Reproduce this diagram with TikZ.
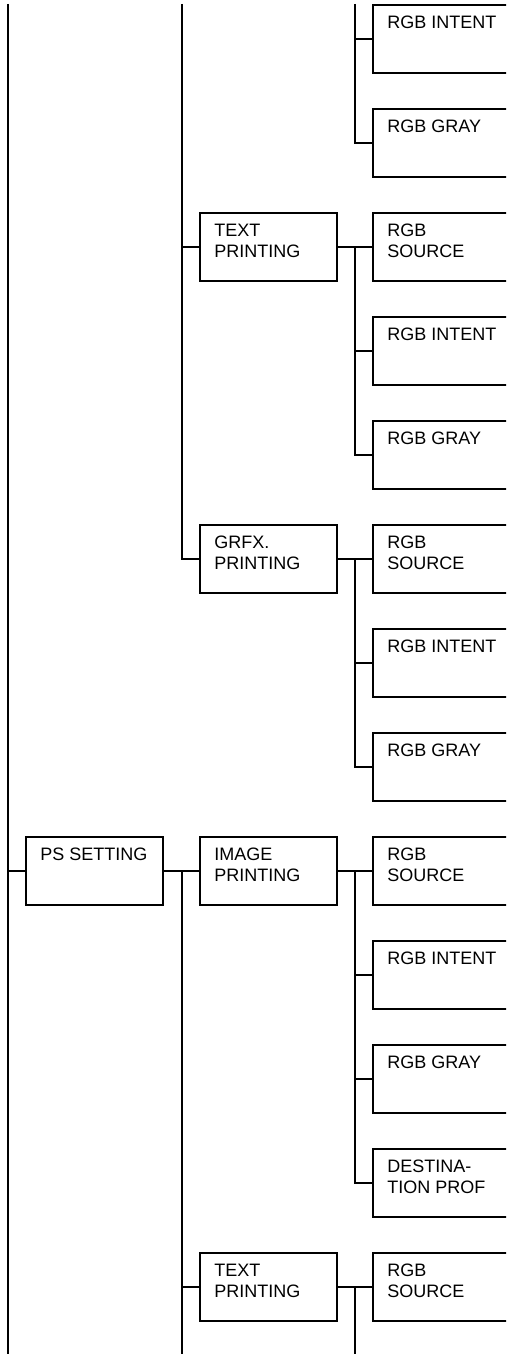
\documentclass[tikz,border=0pt]{standalone}
\usepackage{fontspec}
\setmainfont{Liberation Sans}
\newcommand\mkbox[5]{%
  \node[#1] (#2) at (#3,#4) {};
  \node[lbl] (#2t) at ([xshift=13.5pt,yshift=-10.3pt]#2.north west) {#5};%
}
\begin{document}
\begin{tikzpicture}[x=1pt,y=-1pt, line width=1.8pt,
  box/.style={draw, rectangle, minimum width=137pt, minimum height=68.5pt, inner sep=0pt, outer sep=0pt, anchor=north west},
  rbox/.style={draw, rectangle, minimum width=170pt, minimum height=68.5pt, inner sep=0pt, outer sep=0pt, anchor=north west},
  lbl/.style={anchor=north west, inner sep=0pt, align=left, font=\fontsize{18}{21}\selectfont}]
\useasboundingbox (0,0) rectangle (506,1354);
\clip (0,0) rectangle (506,1354);
% boxes
\mkbox{rbox}{r0}{373}{4.7}{RGB INTENT}
\mkbox{rbox}{r1}{373}{108.7}{RGB GRAY}
\mkbox{box}{m2}{200}{212.7}{TEXT\\PRINTING}
\mkbox{rbox}{r2}{373}{212.7}{RGB\\SOURCE}
\mkbox{rbox}{r3}{373}{316.7}{RGB INTENT}
\mkbox{rbox}{r4}{373}{420.7}{RGB GRAY}
\mkbox{box}{m5}{200}{524.7}{GRFX.\\PRINTING}
\mkbox{rbox}{r5}{373}{524.7}{RGB\\SOURCE}
\mkbox{rbox}{r6}{373}{628.7}{RGB INTENT}
\mkbox{rbox}{r7}{373}{732.7}{RGB GRAY}
\mkbox{box}{l8}{26}{836.7}{PS SETTING}
\mkbox{box}{m8}{200}{836.7}{IMAGE\\PRINTING}
\mkbox{rbox}{r8}{373}{836.7}{RGB\\SOURCE}
\mkbox{rbox}{r9}{373}{940.7}{RGB INTENT}
\mkbox{rbox}{r10}{373}{1044.7}{RGB GRAY}
\mkbox{rbox}{r11}{373}{1148.7}{DESTINA-\\TION PROF}
\mkbox{box}{m12}{200}{1252.7}{TEXT\\PRINTING}
\mkbox{rbox}{r12}{373}{1252.7}{RGB\\SOURCE}
% trunk coordinates
\coordinate (a0) at (8,4);
\coordinate (a1) at (8,1354);
\coordinate (b0) at (182,4);
\coordinate (b1) at (182,1354);
\coordinate (c0) at (355,4);
\coordinate (c1) at (355,1354);
% level 1
\draw (a0) -- (a1);
\draw (a0 |- l8.west) -- (l8.west);
% level 2
\draw (b0) |- (m5.west);
\draw (b0 |- m2.west) -- (m2.west);
\draw (l8.east) -- (m8.west);
\draw (b0 |- m8.west) -- (b1);
\draw (b0 |- m12.west) -- (m12.west);
% level 3
\draw (c0) |- (r1.west);
\draw (c0 |- r0.west) -- (r0.west);
\draw (m2.east) -- (r2.west);
\draw (c0 |- r2.west) |- (r4.west);
\draw (c0 |- r3.west) -- (r3.west);
\draw (m5.east) -- (r5.west);
\draw (c0 |- r5.west) |- (r7.west);
\draw (c0 |- r6.west) -- (r6.west);
\draw (m8.east) -- (r8.west);
\draw (c0 |- r8.west) |- (r11.west);
\draw (c0 |- r9.west) -- (r9.west);
\draw (c0 |- r10.west) -- (r10.west);
\draw (m12.east) -- (r12.west);
\draw (c0 |- r12.west) -- (c1);
\end{tikzpicture}
\end{document}
